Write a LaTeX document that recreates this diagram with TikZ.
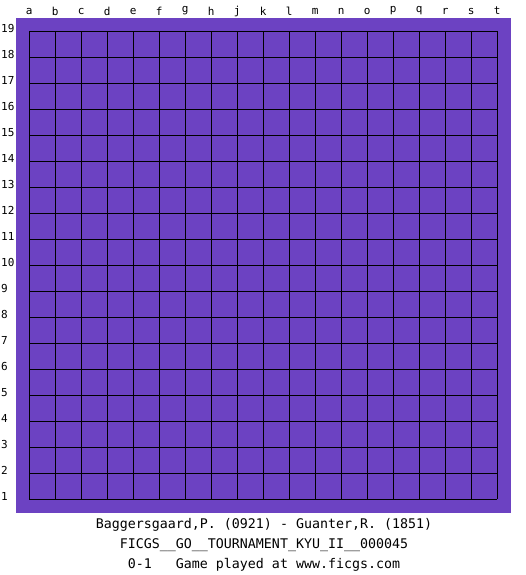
\documentclass[tikz,border=0pt]{standalone}
\usepackage{fontspec}
\setmonofont{DejaVu Sans Mono}
\definecolor{boardc}{RGB}{108,66,194}
\tikzset{
  board/.style={fill=boardc},
  gridline/.style={line width=1pt, black},
  collabel/.style={font=\fontsize{11}{13}\selectfont\ttfamily, inner sep=0pt, anchor=center},
  rowlabel/.style={font=\fontsize{11}{13}\selectfont\ttfamily, inner sep=0pt, anchor=west},
  caption/.style={font=\fontsize{13.3}{16}\selectfont\ttfamily, inner sep=0pt, anchor=center}
}
\begin{document}
\begin{tikzpicture}[x=1pt,y=-1pt]
\useasboundingbox (0,0) rectangle (525,575);
\fill[board] (16,18) rectangle (510.7,512.7);
\foreach \i in {0,...,18} {
  \draw[gridline] ({29.3+26*\i},31.3) -- ({29.3+26*\i},499.3);
  \draw[gridline] (29.3,{31.3+26*\i}) -- (497.3,{31.3+26*\i});
}
\foreach \l [count=\c from 0] in {a,b,c,d,e,f,g,h,j,k,l,m,n,o,p,q,r,s,t} {
  \node[collabel] (col\l) at ({29.3+26*\c},11) {\l};
}
\foreach \r in {1,...,19} {
  \node[rowlabel] (row\r) at (1,{499.3-26*(\r-1)-2.5}) {\r};
}
\node[caption] (players) at (264,525) {Baggersgaard,P. (0921) - Guanter,R. (1851)};
\node[caption] (event) at (264,545) {FICGS\_\_GO\_\_TOURNAMENT\_KYU\_II\_\_000045};
\node[caption] (result) at (264,565) {0-1\ \ \ Game played at www.ficgs.com};
\end{tikzpicture}
\end{document}
